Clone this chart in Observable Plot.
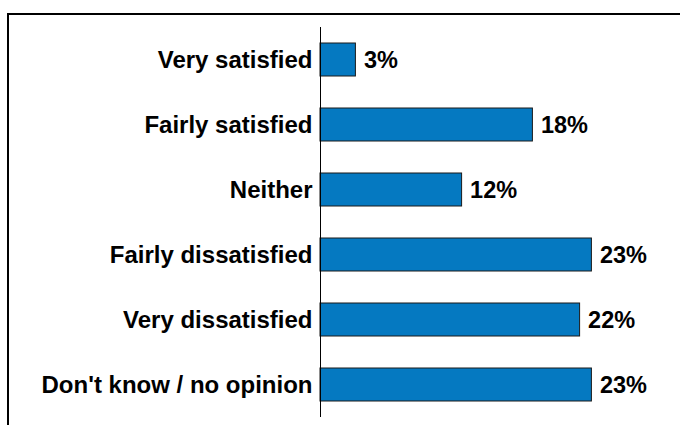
<!DOCTYPE html>
<html>
<head>
<meta charset="utf-8">
<script src="https://cdn.jsdelivr.net/npm/d3@7"></script>
<script src="https://cdn.jsdelivr.net/npm/@observablehq/plot@0.6"></script>
<style>
  html, body { margin: 0; padding: 0; background: #fff; }
  #wrap { position: relative; width: 680px; height: 425px; overflow: hidden; }
  #frame { position: absolute; left: 7px; top: 13px; width: 700px; height: 450px;
           border-left: 2px solid #000; border-top: 2px solid #000; pointer-events: none; }
  #chart { position: absolute; left: 0; top: 0; }
</style>
</head>
<body>
<div id="wrap">
  <div id="chart"></div>
  <div id="frame"></div>
</div>
<script>
const categories = ["Very satisfied", "Fairly satisfied", "Neither", "Fairly dissatisfied", "Very dissatisfied", "Don't know / no opinion"];
const values = [3, 18, 12, 23, 22, 23];
const valueLabels = ["3%", "18%", "12%", "23%", "22%", "23%"];

const data = categories.map((c, i) => ({category: c, value: values[i], label: valueLabels[i]}));

const font = "'Liberation Sans', Arial, sans-serif";

const chart = Plot.plot({
  width: 680,
  height: 425,
  marginLeft: 320,
  marginRight: 6,
  marginTop: 30,
  marginBottom: 11,
  style: { fontFamily: font, background: "transparent" },
  x: { domain: [0, 30], axis: null },
  y: { domain: categories, paddingInner: 0.5, paddingOuter: 0.2, label: null },
  marks: [
    Plot.barX(data, { x: "value", y: "category", fill: "#0579C1", stroke: "#1a1a1a", strokeWidth: 1 }),
    Plot.text(data, { x: "value", y: "category", text: "label", textAnchor: "start", dx: 8,
      fontSize: 23.5, fontWeight: "bold", fill: "#000" }),
    Plot.ruleX([0], { stroke: "#000", strokeWidth: 1, insetTop: -3, insetBottom: -3 }),
    Plot.axisY({ tickSize: 0, tickPadding: 8, fontSize: 24, fontWeight: "bold", fill: "#000", label: null })
  ]
});
document.getElementById("chart").appendChild(chart);
</script>
</body>
</html>
